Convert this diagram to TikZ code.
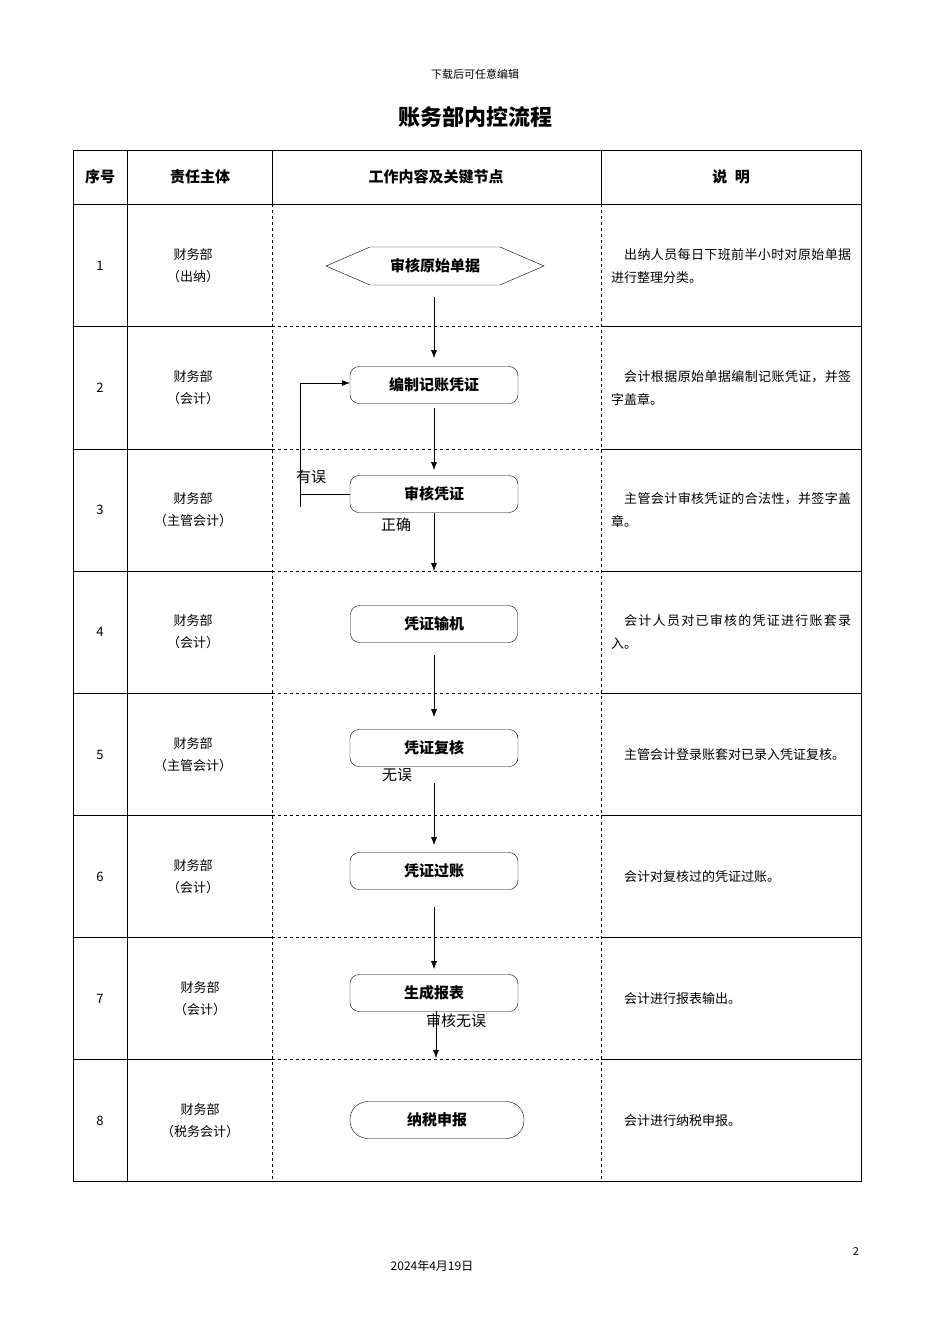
\documentclass[tikz,border=0pt]{standalone}
\usepackage{fontspec}
\setmainfont{Noto Sans CJK SC}
\XeTeXlinebreaklocale "zh"
\XeTeXlinebreakskip=0pt plus 1pt
\usetikzlibrary{shapes.geometric,arrows.meta}
\begin{document}
\begin{tikzpicture}[x=1pt,y=-1pt,
  cell/.style={font=\fontsize{13}{22}\selectfont,align=center},
  hdr/.style={font=\fontsize{15}{18}\selectfont\bfseries},
  desc/.style={font=\fontsize{13}{23}\selectfont,text width=240pt,align=justify,anchor=west,inner sep=0pt},
  boxn/.style={draw,rounded corners=9pt,minimum width=168pt,minimum height=37pt,font=\fontsize{15}{18}\selectfont\bfseries},
  arr/.style={-{Latex[length=8pt,width=6pt]}},
  lbl/.style={font=\fontsize{15}{18}\selectfont}]
\useasboundingbox (0,0) rectangle (950,1344);
\node[font=\fontsize{11}{13}\selectfont] (top) at (475,74) {下载后可任意编辑};
\node[font=\fontsize{22}{26}\selectfont\bfseries] (title) at (475,117) {账务部内控流程};
\draw (73,150) rectangle (861,1181);
\draw (73,204) -- (861,204);
\foreach \x in {127,272,601} \draw (\x,150) -- (\x,204);
\draw (127,204) -- (127,1181);
\draw[dashed] (272,204) -- (272,1181);
\draw[dashed] (601,204) -- (601,1181);
\foreach \y in {326,449,571,693,815,937,1059} {
  \draw (73,\y) -- (272,\y); \draw[dashed] (272,\y) -- (601,\y); \draw (601,\y) -- (861,\y);}
\node[hdr] (h1) at (100,177) {序号};
\node[hdr] (h2) at (200,177) {责任主体};
\node[hdr] (h3) at (436,177) {工作内容及关键节点};
\node[hdr] (h4) at (731,177) {说\enspace 明};
\foreach \n/\y/\s/\xx in {1/266/出纳/193,2/388/会计/193,3/510/主管会计/193,4/632/会计/193,5/755/主管会计/193,6/877/会计/193,7/999/会计/200,8/1121/税务会计/200}{
  \node[cell] (n\n) at (100,\y) {\n};
  \node[cell] (s\n) at (\xx,\y) {财务部\\（\s）};}
\node[desc] (d1) at (611,266) {\hspace*{1em}出纳人员每日下班前半小时对原始单据进行整理分类。};
\node[desc] (d2) at (611,388) {\hspace*{1em}会计根据原始单据编制记账凭证，并签字盖章。};
\node[desc] (d3) at (611,510) {\hspace*{1em}主管会计审核凭证的合法性，并签字盖章。};
\node[desc] (d4) at (611,632) {\hspace*{1em}会计人员对已审核的凭证进行账套录入。};
\node[desc] (d5) at (611,755) {\hspace*{1em}主管会计登录账套对已录入凭证复核。};
\node[desc] (d6) at (611,877) {\hspace*{1em}会计对复核过的凭证过账。};
\node[desc] (d7) at (611,999) {\hspace*{1em}会计进行报表输出。};
\node[desc] (d8) at (611,1121) {\hspace*{1em}会计进行纳税申报。};
\node[minimum width=218pt,minimum height=38pt,font=\fontsize{15}{18}\selectfont\bfseries] (b1) at (435,266) {审核原始单据};
\draw (326,266) -- (370,247) -- (500,247) -- (544,266) -- (500,285) -- (370,285) -- cycle;
\node[boxn] (b2) at (434,385) {编制记账凭证};
\node[boxn] (b3) at (434,494) {审核凭证};
\node[boxn,minimum width=167pt] (b4) at (434,624) {凭证输机};
\node[boxn] (b5) at (434,748) {凭证复核};
\node[boxn] (b6) at (434,871) {凭证过账};
\node[boxn] (b7) at (434,993) {生成报表};
\node[draw,rounded corners=18pt,minimum width=174pt,minimum height=37pt,font=\fontsize{15}{18}\selectfont\bfseries] (b8) at (437,1120) {纳税申报};
\coordinate (a1) at (434,297); \coordinate (a2) at (434,358);
\draw[arr] (a1) -- (a2);
\coordinate (a3) at (434,408); \coordinate (a4) at (434,470);
\draw[arr] (a3) -- (a4);
\coordinate (a5) at (434,571);
\draw[arr] (b3.south) -- (a5);
\coordinate (a6) at (434,655); \coordinate (a7) at (434,717);
\draw[arr] (a6) -- (a7);
\coordinate (a8) at (434,783); \coordinate (a9) at (434,845);
\draw[arr] (a8) -- (a9);
\coordinate (a10) at (434,907); \coordinate (a11) at (434,969);
\draw[arr] (a10) -- (a11);
\coordinate (a12) at (436,1011); \coordinate (a13) at (436,1058);
\draw[arr] (a12) -- (a13);
\coordinate (f1) at (300,494); \coordinate (f2) at (300,383); \coordinate (f3) at (300,507);
\draw (b3.west) -- (f1);
\draw (f3) -- (f2);
\draw[arr] (f2) -- (b2.west |- f2);
\node[lbl] (l1) at (311,477) {有误};
\node[lbl] (l2) at (396,525) {正确};
\node[lbl] (l3) at (397,775) {无误};
\node[lbl] (l4) at (456,1021) {审核无误};
\node[font=\fontsize{11}{13}\selectfont] (pg) at (856,1251) {2};
\node[font=\fontsize{12}{14}\selectfont] (dt) at (432,1266) {2024年4月19日};
\end{tikzpicture}
\end{document}
